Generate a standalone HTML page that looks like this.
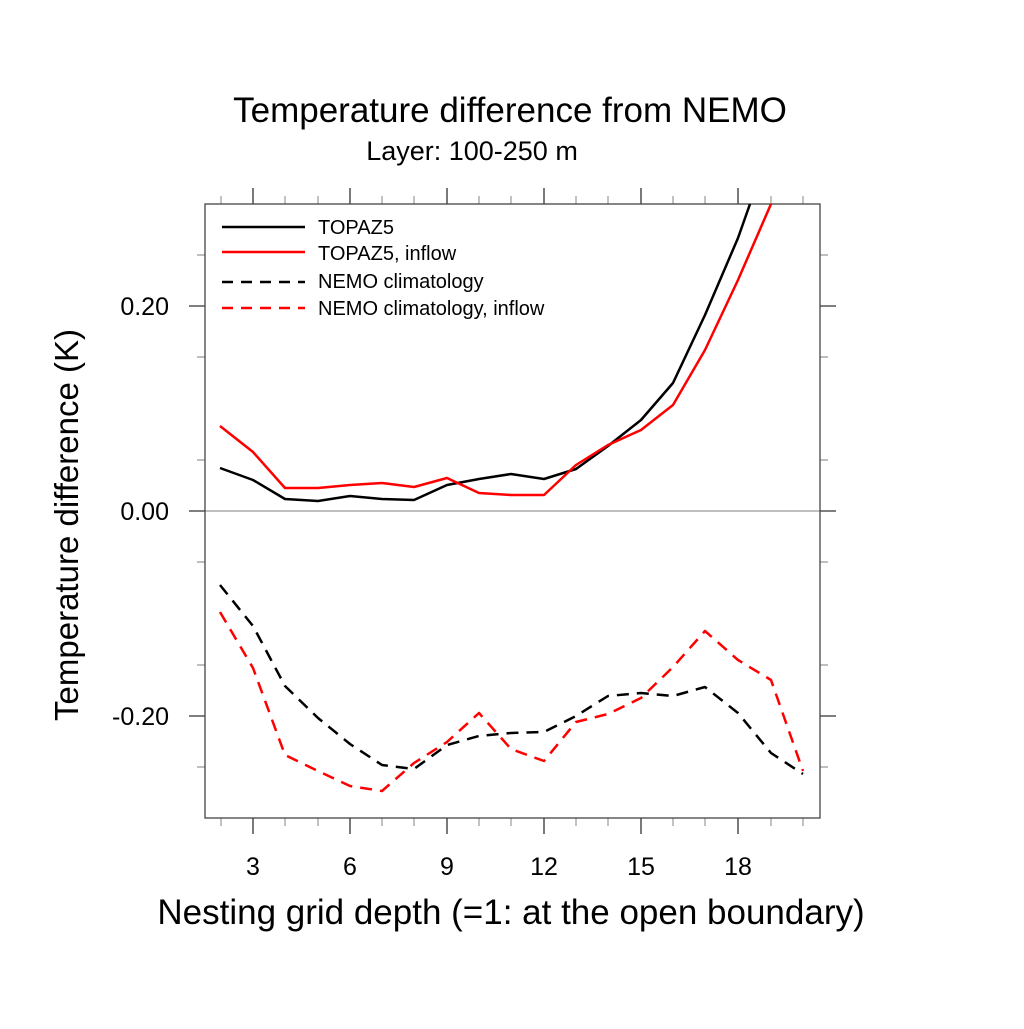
<!DOCTYPE html>
<html><head><meta charset="utf-8"><style>
html,body{margin:0;padding:0;background:#fff;}
svg text{font-family:"Liberation Sans",sans-serif;}
</style></head><body>
<svg width="1024" height="1024" viewBox="0 0 1024 1024" xmlns="http://www.w3.org/2000/svg">
<rect width="1024" height="1024" fill="#fff"/>
<text x="510" y="122" font-size="35" text-anchor="middle">Temperature difference from NEMO</text>
<text x="472" y="160" font-size="27" text-anchor="middle">Layer: 100-250 m</text>
<text x="511" y="924" font-size="35" text-anchor="middle">Nesting grid depth (=1: at the open boundary)</text>
<text transform="translate(78,525) rotate(-90)" font-size="33" text-anchor="middle">Temperature difference (K)</text>
<g font-size="25" text-anchor="end">
<text x="169" y="315">0.20</text>
<text x="169" y="520">0.00</text>
<text x="169" y="725">-0.20</text>
</g>
<g font-size="25" text-anchor="middle">
<text x="253" y="875">3</text><text x="350" y="875">6</text><text x="447" y="875">9</text>
<text x="544" y="875">12</text><text x="641" y="875">15</text><text x="738" y="875">18</text>
</g>
<line x1="205" y1="511" x2="820" y2="511" stroke="#aaa" stroke-width="1.5"/>
<g stroke="#999" stroke-width="1.2">
<path d="M221 818v8M285 818v8M318 818v8M382 818v8M414 818v8M479 818v8M511 818v8M576 818v8M608 818v8M673 818v8M705 818v8M771 818v8M803 818v8"/>
<path d="M221 204v-8M285 204v-8M318 204v-8M382 204v-8M414 204v-8M479 204v-8M511 204v-8M576 204v-8M608 204v-8M673 204v-8M705 204v-8M771 204v-8M803 204v-8"/>
<path d="M205 255h-8M205 357h-8M205 460h-8M205 562h-8M205 665h-8M205 767h-8M820 255h8M820 357h8M820 460h8M820 562h8M820 665h8M820 767h8"/>
</g>
<g stroke="#333" stroke-width="1.3">
<path d="M253 818v16M350 818v16M447 818v16M544 818v16M641 818v16M738 818v16"/>
<path d="M253 204v-16M350 204v-16M447 204v-16M544 204v-16M641 204v-16M738 204v-16"/>
<path d="M205 306h-16M205 511h-16M205 716h-16M820 306h16M820 511h16M820 716h16"/>
</g>
<rect x="205" y="204" width="615" height="614" fill="none" stroke="#444" stroke-width="1.3"/>
<g fill="none" stroke-width="2.5" stroke-linejoin="round">
<polyline stroke="#000" points="220,468 253,480 285,499 318,501 350,496 382,499 414,500 447,485 479,479 511,474 544,479 576,469 608,446 641,420 673,383 705,315 738,238 750,204"/>
<polyline stroke="#f00" points="220,426 253,452 285,488 318,488 350,485 382,483 414,487 447,478 479,493 511,495 544,495 576,465 608,445 641,430 673,405 705,350 738,280 771,204"/>
<polyline stroke="#000" stroke-dasharray="12,8" points="220,585 253,626 285,686 318,718 350,744 382,765 414,769 447,745 479,736 511,733 544,732 576,716 608,696 641,693 673,696 705,687 738,713 771,753 803,774"/>
<polyline stroke="#f00" stroke-dasharray="12,8" points="220,612 253,668 285,755 318,771 350,786 382,791 414,763 447,742 479,713 511,749 544,761 576,722 608,714 641,698 673,667 705,631 738,660 771,680 803,771"/>
<line x1="222" y1="227" x2="305" y2="227" stroke="#000"/>
<line x1="222" y1="252" x2="305" y2="252" stroke="#f00"/>
<line x1="222" y1="282" x2="305" y2="282" stroke="#000" stroke-dasharray="11,8"/>
<line x1="222" y1="308" x2="305" y2="308" stroke="#f00" stroke-dasharray="11,8"/>
</g>
<g font-size="20">
<text x="318" y="234">TOPAZ5</text>
<text x="318" y="260">TOPAZ5, inflow</text>
<text x="318" y="288">NEMO climatology</text>
<text x="318" y="315">NEMO climatology, inflow</text>
</g>
</svg>
</body></html>
